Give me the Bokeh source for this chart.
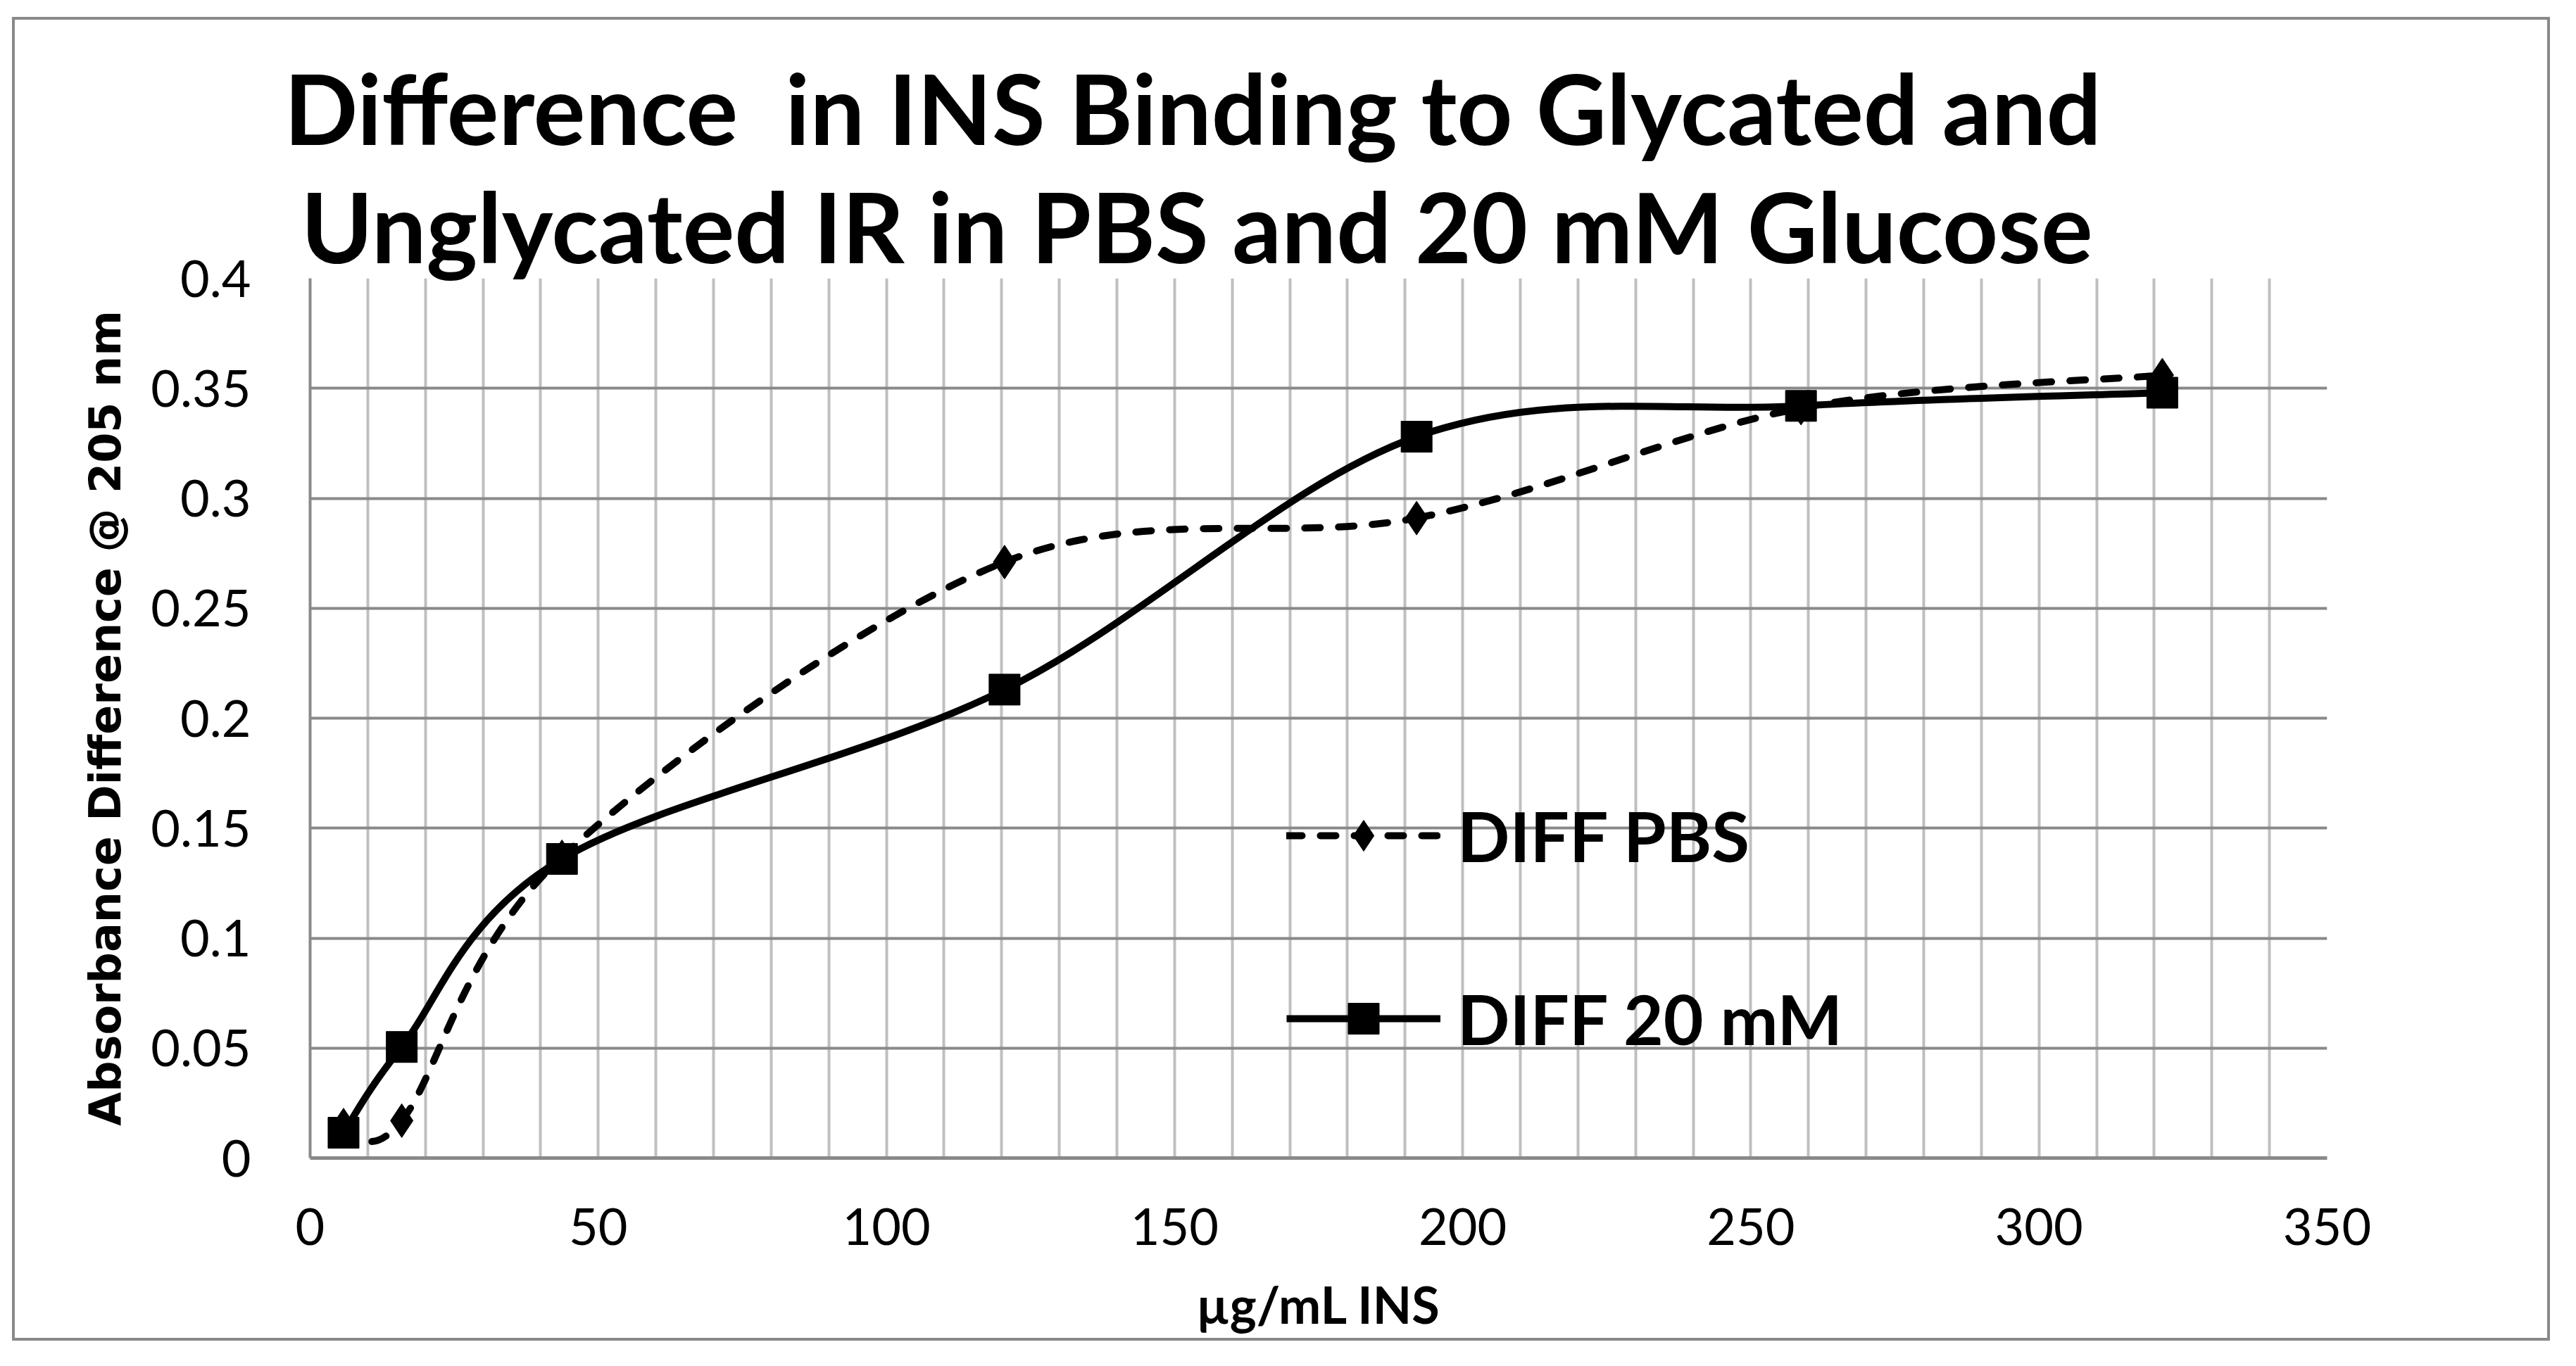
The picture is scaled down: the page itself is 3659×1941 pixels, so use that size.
import numpy as np
from bokeh.plotting import figure
from bokeh.models import (Range1d, SingleIntervalTicker, FixedTicker, Title,
                          Legend, LegendItem, ColumnDataSource)
from bokeh.embed import file_html
from bokeh.resources import INLINE

# ---- data ----
conc = [5.8, 15.9, 43.7, 120.5, 192.0, 258.7, 321.4]
diff_pbs = [0.015, 0.017, 0.137, 0.271, 0.291, 0.341, 0.356]
diff_20mm = [0.0115, 0.0505, 0.136, 0.213, 0.328, 0.342, 0.348]
series_names = ["DIFF PBS", "DIFF 20 mM"]
y_ticks = [0, 0.05, 0.1, 0.15, 0.2, 0.25, 0.3, 0.35, 0.4]
y_tick_labels = ["0", "0.05", "0.1", "0.15", "0.2", "0.25", "0.3", "0.35", "0.4"]
x_ticks = [0, 50, 100, 150, 200, 250, 300, 350]
x_tick_labels = ["0", "50", "100", "150", "200", "250", "300", "350"]
title_lines = ["Difference  in INS Binding to Glycated and",
               "Unglycated IR in PBS and 20 mM Glucose"]
x_title = "\u00b5g/mL INS"
y_title = "Absorbance Difference @ 205 nm"

GRID_DARK = "#898989"
GRID_LIGHT = "#BFBFBF"


def smooth_segments(xs, ys):
    """Bezier control points (Excel-like smoothed line) from the data."""
    x = np.asarray(xs, float)
    y = np.asarray(ys, float)
    n = len(x)
    xp = np.concatenate([[x[0]], x, [x[-1]]])
    yp = np.concatenate([[y[0]], y, [y[-1]]])
    d = dict(x0=[], y0=[], x1=[], y1=[], cx0=[], cy0=[], cx1=[], cy1=[])
    for i in range(n - 1):
        j = i + 1
        d["x0"].append(x[i]); d["y0"].append(y[i])
        d["x1"].append(x[i + 1]); d["y1"].append(y[i + 1])
        d["cx0"].append(x[i] + (xp[j + 1] - xp[j - 1]) / 6.0)
        d["cy0"].append(y[i] + (yp[j + 1] - yp[j - 1]) / 6.0)
        d["cx1"].append(x[i + 1] - (xp[j + 2] - xp[j]) / 6.0)
        d["cy1"].append(y[i + 1] - (yp[j + 2] - yp[j]) / 6.0)
    return ColumnDataSource(d)


# outer size includes the 4px CSS border on each side
W, H = 3605, 1881
p = figure(width=W, height=H, output_backend="svg", toolbar_location=None,
           x_range=Range1d(0, 350), y_range=Range1d(0, 0.4),
           min_border_left=419, min_border_right=321,
           min_border_top=367, min_border_bottom=264)
p.background_fill_color = "white"
p.border_fill_color = "white"
p.outline_line_color = None
# outer chart border
p.styles = {"border": "4px solid #898989", "margin-left": "17px",
            "margin-top": "24px"}

# grids
p.xgrid.ticker = SingleIntervalTicker(interval=10)
p.xgrid.grid_line_color = GRID_LIGHT
p.xgrid.grid_line_width = 4
p.ygrid.ticker = FixedTicker(ticks=y_ticks)
p.ygrid.grid_line_color = GRID_DARK
p.ygrid.grid_line_width = 4

# axes
p.xaxis.ticker = FixedTicker(ticks=x_ticks)
p.xaxis.major_label_overrides = {t: l for t, l in zip(x_ticks, x_tick_labels)}
p.yaxis.ticker = FixedTicker(ticks=y_ticks)
p.yaxis.major_label_overrides = {t: l for t, l in zip(y_ticks, y_tick_labels)}
for ax in (p.xaxis[0], p.yaxis[0]):
    ax.axis_line_color = GRID_DARK
    ax.major_tick_line_color = None
    ax.minor_tick_line_color = None
    ax.major_label_text_font = "Lato"
    ax.major_label_text_font_size = "72px"
    ax.major_label_text_color = "black"
    ax.axis_label_text_color = "black"
    ax.axis_label_text_font_style = "bold"
p.xaxis.axis_line_width = 5
p.yaxis.axis_line_width = 4
p.xaxis.major_label_standoff = 65
p.yaxis.major_label_standoff = 78
p.xaxis.axis_label = x_title
p.xaxis.axis_label_text_font = "Lato"
p.xaxis.axis_label_text_font_size = "72px"
p.xaxis.axis_label_standoff = 38
p.yaxis.axis_label = y_title
p.yaxis.axis_label_text_font = "DejaVu Sans"
p.yaxis.axis_label_text_font_size = "62px"
p.yaxis.axis_label_standoff = 25

# title (two lines); the outer line is the figure's own title
p.title.text = title_lines[0].replace("  ", " \u00a0")
p.title.text_font = "Lato"
p.title.text_font_style = "bold"
p.title.text_font_size = "138px"
p.title.text_color = "black"
p.title.align = "left"
p.title.offset = -37
p.title.standoff = 15
p.add_layout(Title(text=title_lines[1], text_font="Lato", text_font_style="bold",
                   text_font_size="138px", text_color="black", align="left",
                   offset=-13, standoff=-14), "above")

# series
src_pbs = smooth_segments(conc, diff_pbs)
src_20 = smooth_segments(conc, diff_20mm)
curve_pbs = p.bezier(x0="x0", y0="y0", x1="x1", y1="y1", cx0="cx0", cy0="cy0",
                     cx1="cx1", cy1="cy1", source=src_pbs, line_color="black",
                     line_width=10, line_dash="22 26", line_cap="round")
curve_20 = p.bezier(x0="x0", y0="y0", x1="x1", y1="y1", cx0="cx0", cy0="cy0",
                    cx1="cx1", cy1="cy1", source=src_20, line_color="black",
                    line_width=10)
pts_pbs = p.scatter(conc, diff_pbs, marker="diamond", size=48,
                    fill_color="black", line_color="black")
pts_20 = p.scatter(conc, diff_20mm, marker="square", size=44,
                   fill_color="black", line_color="black")

legend = Legend(items=[LegendItem(label=series_names[0], renderers=[curve_pbs, pts_pbs]),
                       LegendItem(label=series_names[1], renderers=[curve_20, pts_20])],
                location=(1387, 139), orientation="vertical",
                glyph_width=219, glyph_height=110, label_height=110,
                spacing=142, padding=0, margin=0, label_standoff=24,
                label_text_font="Lato", label_text_font_style="bold",
                label_text_font_size="98px", label_text_color="black",
                border_line_color=None, background_fill_alpha=0)
p.add_layout(legend)

open("out.html", "w").write(file_html(p, INLINE))
